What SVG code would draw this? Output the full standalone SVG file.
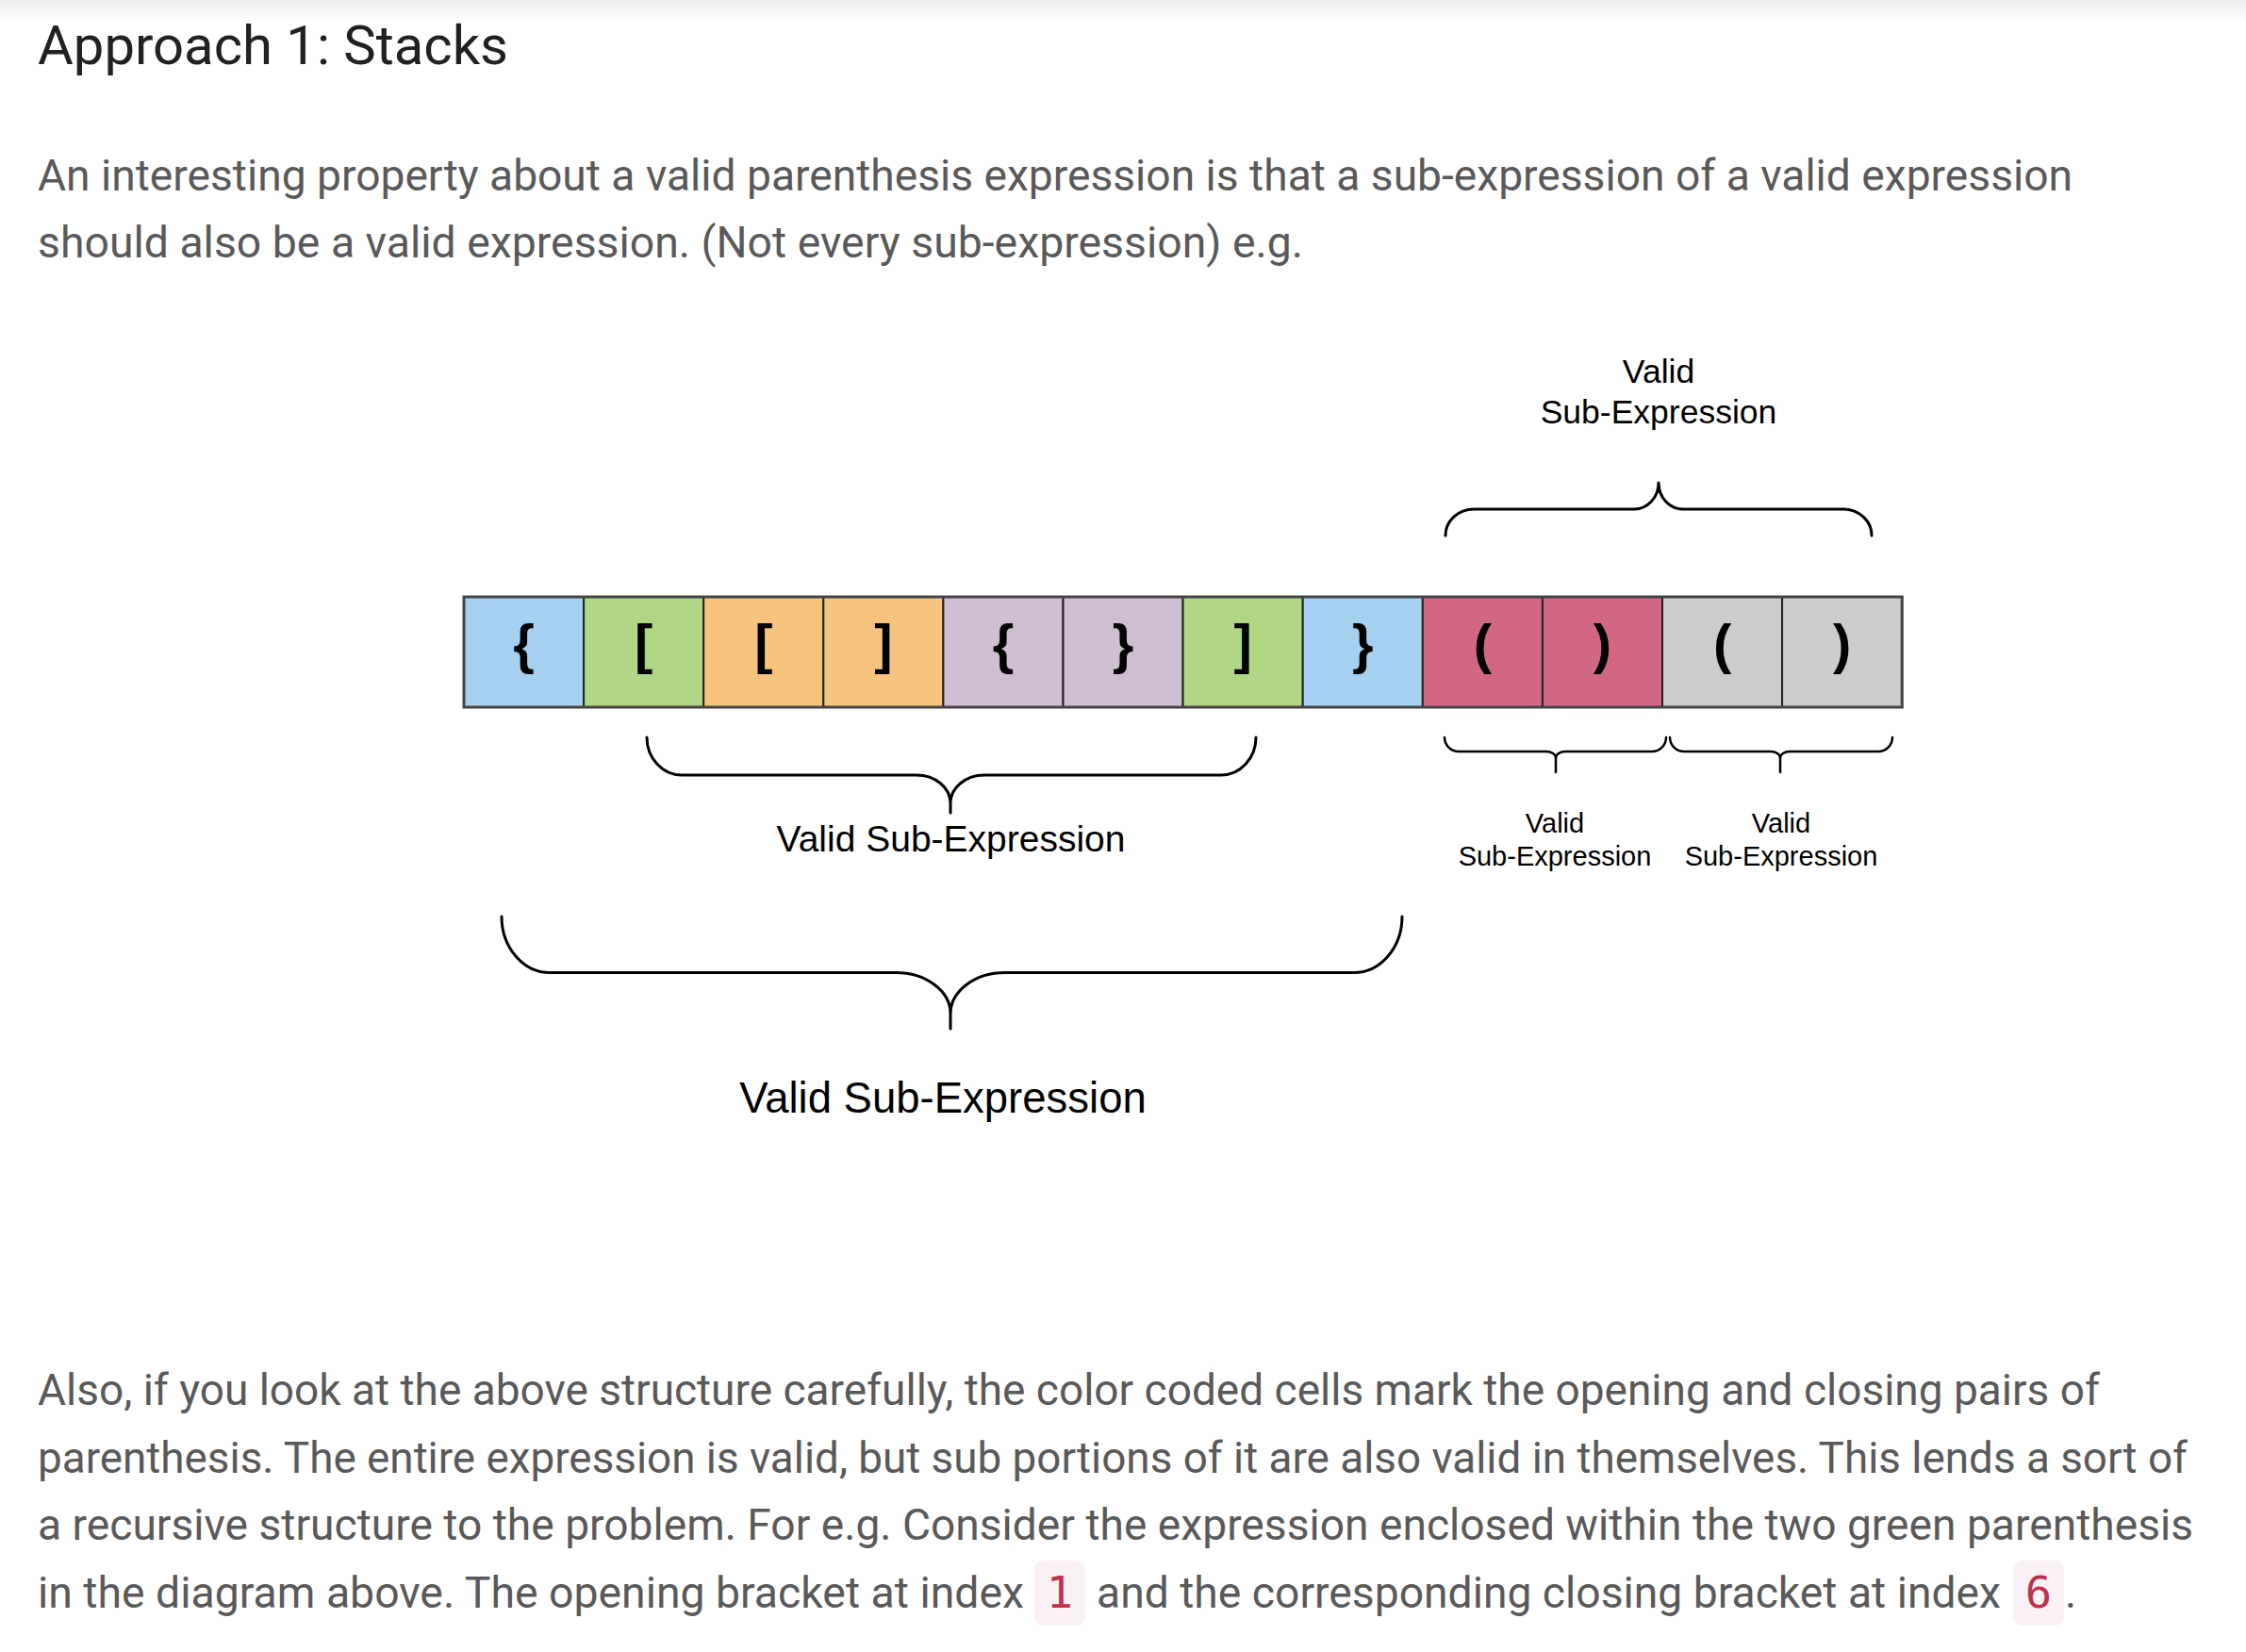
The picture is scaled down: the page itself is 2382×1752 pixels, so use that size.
<svg xmlns="http://www.w3.org/2000/svg" width="2382" height="1752" viewBox="0 0 2382 1752">
<defs>
<linearGradient id="topfade" x1="0" y1="0" x2="0" y2="1">
<stop offset="0" stop-color="#ececec"/>
<stop offset="1" stop-color="#ffffff"/>
</linearGradient>
<style>
.prose{font-family:"Roboto","Liberation Sans",sans-serif;font-size:46px;fill:#595959}
.title{font-family:"Roboto","Liberation Sans",sans-serif;font-size:58px;fill:#212121}
.cell{stroke:#222;stroke-width:2}
.glyph{font-family:"Liberation Sans","DejaVu Sans",sans-serif;font-size:58px;font-weight:bold;fill:#000;text-anchor:middle}
.lbl{font-family:"Liberation Sans",Arial,sans-serif;fill:#000;text-anchor:middle}
.brace{fill:none;stroke:#000;stroke-width:3;stroke-linecap:round;stroke-linejoin:round}
.brace-s{fill:none;stroke:#000;stroke-width:2.5;stroke-linecap:round;stroke-linejoin:round}
.code-bg{fill:#f9f1f3}
.code{font-family:"DejaVu Sans Mono","Liberation Mono",monospace;font-size:47px;fill:#c0304f;text-anchor:middle}
.blue{fill:#a6d0f0}.green{fill:#b1d786}.orange{fill:#f7c480}.purple{fill:#cfbdd1}.red{fill:#d16783}.gray{fill:#cccccc}
</style>
</defs>
<rect x="0" y="0" width="2382" height="1752" fill="#ffffff"/>
<rect x="0" y="0" width="2382" height="22" fill="url(#topfade)"/>

<text class="title" x="40" y="68" textLength="499" lengthAdjust="spacingAndGlyphs">Approach 1: Stacks</text>

<text class="prose" x="40" y="202" textLength="2158" lengthAdjust="spacingAndGlyphs">An interesting property about a valid parenthesis expression is that a sub-expression of a valid expression</text>
<text class="prose" x="40" y="273" textLength="1342" lengthAdjust="spacingAndGlyphs">should also be a valid expression. (Not every sub-expression) e.g.</text>

<g id="cells">
<g id="cell0"><rect class="cell blue" x="492" y="633" width="127.1" height="117"/><text class="glyph" x="555.6" y="703">{</text></g>
<g id="cell1"><rect class="cell green" x="619.1" y="633" width="127.1" height="117"/><text class="glyph" x="682.7" y="703">[</text></g>
<g id="cell2"><rect class="cell orange" x="746.2" y="633" width="127.1" height="117"/><text class="glyph" x="809.8" y="703">[</text></g>
<g id="cell3"><rect class="cell orange" x="873.3" y="633" width="127.1" height="117"/><text class="glyph" x="936.9" y="703">]</text></g>
<g id="cell4"><rect class="cell purple" x="1000.4" y="633" width="127.1" height="117"/><text class="glyph" x="1064" y="703">{</text></g>
<g id="cell5"><rect class="cell purple" x="1127.5" y="633" width="127.1" height="117"/><text class="glyph" x="1191.1" y="703">}</text></g>
<g id="cell6"><rect class="cell green" x="1254.6" y="633" width="127.1" height="117"/><text class="glyph" x="1318.2" y="703">]</text></g>
<g id="cell7"><rect class="cell blue" x="1381.7" y="633" width="127.1" height="117"/><text class="glyph" x="1445.3" y="703">}</text></g>
<g id="cell8"><rect class="cell red" x="1508.8" y="633" width="127.1" height="117"/><text class="glyph" x="1572.4" y="703">(</text></g>
<g id="cell9"><rect class="cell red" x="1635.9" y="633" width="127.1" height="117"/><text class="glyph" x="1699.5" y="703">)</text></g>
<g id="cell10"><rect class="cell gray" x="1763" y="633" width="127.1" height="117"/><text class="glyph" x="1826.6" y="703">(</text></g>
<g id="cell11"><rect class="cell gray" x="1890.1" y="633" width="127.1" height="117"/><text class="glyph" x="1953.7" y="703">)</text></g>
<rect x="492" y="633" width="1525.2" height="117" fill="none" stroke="#444" stroke-width="3"/>
</g>

<g id="connectors">
<path id="brace-top" class="brace" d="M1533,568 C1533,552.5 1546.4,540 1563,540 L1733,540 C1747.4,540 1759,527.5 1759,512 M1759,512 C1759,527.5 1770.6,540 1785,540 L1955,540 C1971.6,540 1985,552.5 1985,568"/>
<path id="brace-small-1" class="brace-s" d="M1532,782 C1532,790.3 1538.7,797 1547,797 L1640,797 C1645.5,797 1650,800 1650,804 L1650,819 M1650,804 C1650,800 1654.5,797 1660,797 L1752,797 C1760.3,797 1767,790.3 1767,782"/>
<path id="brace-small-2" class="brace-s" d="M1771,782 C1771,790.3 1777.7,797 1786,797 L1878,797 C1883.5,797 1888,800 1888,804 L1888,819 M1888,804 C1888,800 1892.5,797 1898,797 L1992,797 C2000.3,797 2007,790.3 2007,782"/>
<path id="brace-mid" class="brace" d="M686,782 C686,804 702.6,822 723,822 L972,822 C991.9,822 1008,835.4 1008,852 L1008,862 M1008,852 C1008,835.4 1024.1,822 1044,822 L1295,822 C1315.4,822 1332,804 1332,782"/>
<path id="brace-big" class="brace" d="M532,972 C532,1004.6 554.8,1031.5 583,1031.5 L950,1031.5 C982,1031.5 1008,1051 1008,1075 L1008,1091 M1008,1075 C1008,1051 1034,1031.5 1066,1031.5 L1436,1031.5 C1464.2,1031.5 1487,1004.6 1487,972"/>
</g>

<g id="label-top">
<text class="lbl" x="1759" y="406" font-size="35.5">Valid</text>
<text class="lbl" x="1759" y="449" font-size="35.5">Sub-Expression</text>
</g>
<g id="label-small-1">
<text class="lbl" x="1649" y="883" font-size="29">Valid</text>
<text class="lbl" x="1649" y="918" font-size="29">Sub-Expression</text>
</g>
<g id="label-small-2">
<text class="lbl" x="1889" y="883" font-size="29">Valid</text>
<text class="lbl" x="1889" y="918" font-size="29">Sub-Expression</text>
</g>
<g id="label-mid">
<text class="lbl" x="1008.5" y="903" font-size="39">Valid Sub-Expression</text>
</g>
<g id="label-big">
<text class="lbl" x="1000" y="1180" font-size="45.5">Valid Sub-Expression</text>
</g>

<text class="prose" x="40" y="1490" textLength="2187" lengthAdjust="spacingAndGlyphs">Also, if you look at the above structure carefully, the color coded cells mark the opening and closing pairs of</text>
<text class="prose" x="40" y="1562" textLength="2280" lengthAdjust="spacingAndGlyphs">parenthesis. The entire expression is valid, but sub portions of it are also valid in themselves. This lends a sort of</text>
<text class="prose" x="40" y="1633" textLength="2286" lengthAdjust="spacingAndGlyphs">a recursive structure to the problem. For e.g. Consider the expression enclosed within the two green parenthesis</text>
<text class="prose" x="40" y="1705" textLength="1046" lengthAdjust="spacingAndGlyphs">in the diagram above. The opening bracket at index</text>
<rect class="code-bg" x="1097" y="1655" width="54" height="69" rx="9"/>
<text class="code" x="1124" y="1705">1</text>
<text class="prose" x="1163" y="1705" textLength="959" lengthAdjust="spacingAndGlyphs">and the corresponding closing bracket at index</text>
<rect class="code-bg" x="2135" y="1655" width="54" height="69" rx="9"/>
<text class="code" x="2162" y="1705">6</text>
<text class="prose" x="2190" y="1705">.</text>
</svg>
